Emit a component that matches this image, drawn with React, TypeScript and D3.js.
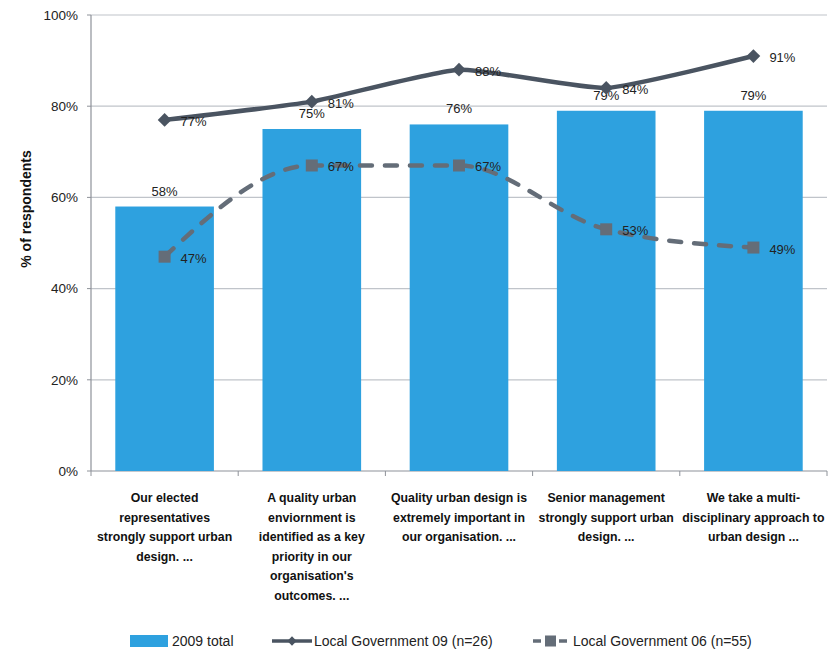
import React, { useEffect } from "react";
import * as d3 from "d3";

const categories: string[][] = [
  ["Our elected", "representatives", "strongly support urban", "design. ..."],
  ["A quality urban", "enviornment is", "identified as a key", "priority in our", "organisation's", "outcomes. ..."],
  ["Quality urban design is", "extremely important in", "our organisation.  ..."],
  ["Senior management", "strongly support urban", "design. ..."],
  ["We take a multi-", "disciplinary approach to", "urban design ..."],
];
const total2009 = [0.58, 0.75, 0.76, 0.79, 0.79];
const lg09 = [0.77, 0.81, 0.88, 0.84, 0.91];
const lg06 = [0.47, 0.67, 0.67, 0.53, 0.49];
const yTicks = [0, 0.2, 0.4, 0.6, 0.8, 1.0];
const seriesNames = ["2009 total", "Local Government 09 (n=26)", "Local Government 06 (n=55)"];

const FONT = "'Liberation Sans', Arial, sans-serif";
const BAR = "#2EA1DF";
const L09 = "#4A5461";
const L06 = "#646D78";

export default function App() {
  useEffect(() => {
    document.body.style.margin = "0";
  }, []);
  const W = 837, H = 651;
  const left = 91, right = 827, top = 15, bottom = 471;
  const keys = categories.map((_, i) => String(i));
  const x = d3.scaleBand<string>().domain(keys).range([left, right]).paddingInner(0.33).paddingOuter(0.165);
  const y = d3.scaleLinear().domain([0, 1]).range([bottom, top]);
  const cx = (i: number) => (x(keys[i]) as number) + x.bandwidth() / 2;
  const line09 = d3.line<number>().x((_, i) => cx(i)).y((d) => y(d)).curve(d3.curveCardinal.tension(0.5));
  const line06 = d3.line<number>().x((_, i) => cx(i)).y((d) => y(d)).curve(d3.curveMonotoneX);
  const fmt = d3.format(".0%");
  const boundaries = d3.range(categories.length + 1).map((i) => left + ((right - left) / categories.length) * i);

  return (
    <svg width={W} height={H} style={{ display: "block", background: "#fff" }} fontFamily={FONT}>
      {yTicks.map((t) => (
        <g key={t}>
          {t > 0 && <line x1={left} x2={right} y1={y(t)} y2={y(t)} stroke="#C0C4CA" strokeWidth={1.2} />}
          <line x1={left - 4} x2={left} y1={y(t)} y2={y(t)} stroke="#8E9299" />
          <text x={78} y={y(t)} dy="0.35em" textAnchor="end" fontSize={13.5} fill="#222">{fmt(t)}</text>
        </g>
      ))}
      <line x1={left} x2={left} y1={top} y2={bottom} stroke="#8E9299" strokeWidth={1.2} />
      <line x1={left} x2={right} y1={bottom} y2={bottom} stroke="#8E9299" strokeWidth={1.2} />
      {boundaries.map((b, i) => (
        <line key={i} x1={b} x2={b} y1={bottom} y2={bottom + 5} stroke="#8E9299" />
      ))}
      <text transform={`translate(31,209) rotate(-90)`} textAnchor="middle" fontSize={14} fontWeight="bold" fill="#111">% of respondents</text>

      {total2009.map((v, i) => (
        <g key={i}>
          <rect x={x(keys[i])} y={y(v)} width={x.bandwidth()} height={bottom - y(v)} fill={BAR} />
          <text x={cx(i)} y={y(v) - 11} textAnchor="middle" fontSize={13} fill="#222">{fmt(v)}</text>
        </g>
      ))}

      <path d={line09(lg09) || ""} fill="none" stroke={L09} strokeWidth={4.5} strokeLinejoin="round" />
      <path d={line06(lg06) || ""} fill="none" stroke={L06} strokeWidth={4.5} strokeDasharray="12 13" strokeLinecap="round" />
      {lg09.map((v, i) => (
        <path key={i} d={d3.symbol(d3.symbolDiamond2, 120)() || ""} transform={`translate(${cx(i)},${y(v)})`} fill={L09} />
      ))}
      {lg06.map((v, i) => (
        <rect key={i} x={cx(i) - 6} y={y(v) - 6} width={12} height={12} fill={L06} />
      ))}
      {lg09.map((v, i) => (
        <text key={i} x={cx(i) + 16} y={y(v) + 6} fontSize={13} fill="#222">{fmt(v)}</text>
      ))}
      {lg06.map((v, i) => (
        <text key={i} x={cx(i) + 16} y={y(v) + 6} fontSize={13} fill="#222">{fmt(v)}</text>
      ))}

      {categories.map((lines, i) => (
        <text key={i} textAnchor="middle" fontSize={12.3} fontWeight="bold" fill="#111">
          {lines.map((l, j) => (
            <tspan key={j} x={cx(i)} y={502 + j * 19.6}>{l}</tspan>
          ))}
        </text>
      ))}

      <g fontSize={14} fill="#222">
        <rect x={130} y={635} width={38} height={12} fill={BAR} />
        <text x={172} y={646}>{seriesNames[0]}</text>
        <line x1={272} x2={312} y1={641} y2={641} stroke={L09} strokeWidth={3.5} />
        <path d={d3.symbol(d3.symbolDiamond2, 55)() || ""} transform="translate(292,641)" fill={L09} />
        <text x={314} y={646}>{seriesNames[1]}</text>
        <line x1={533} x2={568} y1={641} y2={641} stroke={L06} strokeWidth={3.5} strokeDasharray="8 5" />
        <rect x={545} y={635.5} width={11} height={11} fill={L06} />
        <text x={573} y={646}>{seriesNames[2]}</text>
      </g>
    </svg>
  );
}
